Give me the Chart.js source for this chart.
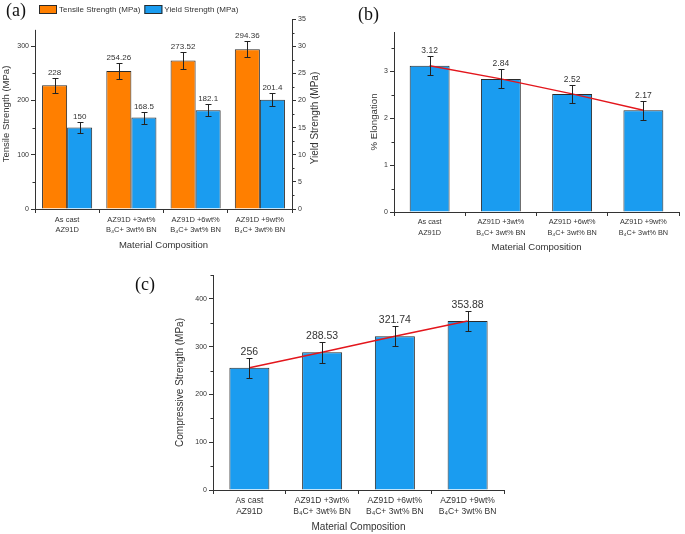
<!DOCTYPE html>
<html>
<head>
<meta charset="utf-8">
<script src="https://cdn.jsdelivr.net/npm/chart.js@4/dist/chart.umd.min.js"></script>
<style>
  body { margin: 0; background: #fff; width: 685px; height: 534px; position: relative; overflow: hidden; }
  canvas { position: absolute; }
  .tag { position: absolute; font: 18px "Liberation Serif", "Times New Roman", serif; line-height: 1; color: #111; }
</style>
</head>
<body>
<canvas id="chartA" width="335" height="255" style="left:0;top:0"></canvas>
<canvas id="chartB" width="345" height="258" style="left:340px;top:0"></canvas>
<canvas id="chartC" width="390" height="272" style="left:130px;top:262px"></canvas>
<div class="tag" style="left:6px;top:1px">(a)</div>
<div class="tag" style="left:358px;top:5px">(b)</div>
<div class="tag" style="left:135px;top:275px">(c)</div>
<script>
// data
const categories = [
  ['As cast', 'AZ91D'],
  ['AZ91D +3wt%', 'B\u2084C+ 3wt% BN'],
  ['AZ91D +6wt%', 'B\u2084C+ 3wt% BN'],
  ['AZ91D +9wt%', 'B\u2084C+ 3wt% BN']
];
const tensile = [228, 254.26, 273.52, 294.36];
const tensileErr = [14, 14, 15, 15];
const yieldStrength = [150, 168.5, 182.1, 201.4];
const yieldErr = [10, 11, 11, 12];
const elongation = [3.12, 2.84, 2.52, 2.17];
const elongationErr = [0.2, 0.2, 0.2, 0.2];
const compressive = [256, 288.53, 321.74, 353.88];
const compressiveErr = [21, 22, 21, 21];

const tensileTicks = [0, 100, 200, 300];
const yieldTicks = [0, 5, 10, 15, 20, 25, 30, 35];
const elongationTicks = [0, 1, 2, 3];
const compressiveTicks = [0, 100, 200, 300, 400];

const FONT = '"Liberation Sans", Arial, sans-serif';
const ORANGE = '#ff7f00';
const BLUE = '#1a9cf0';
const EDGE = '#2b2b2b';
const INK = '#333';
const TREND = '#e3161c';

// error bars + value labels above them
const errorBars = {
  id: 'errorBars',
  afterDatasetsDraw(chart, args, opts) {
    const ctx = chart.ctx;
    chart.data.datasets.forEach((ds, i) => {
      if (!ds.errors) return;
      const meta = chart.getDatasetMeta(i);
      const ys = chart.scales[meta.yAxisID];
      meta.data.forEach((bar, j) => {
        const v = ds.data[j], e = ds.errors[j];
        const x = Math.round(bar.x) + 0.5;
        const top = Math.round(ys.getPixelForValue(v + e)) + 0.5;
        const bot = Math.round(ys.getPixelForValue(v - e)) + 0.5;
        ctx.save();
        ctx.strokeStyle = '#222';
        ctx.lineWidth = 1;
        ctx.beginPath();
        ctx.moveTo(x, top); ctx.lineTo(x, bot);
        ctx.moveTo(x - 3, top); ctx.lineTo(x + 3, top);
        ctx.moveTo(x - 3, bot); ctx.lineTo(x + 3, bot);
        ctx.stroke();
        ctx.fillStyle = INK;
        ctx.font = opts.size + 'px ' + FONT;
        ctx.textAlign = 'center';
        ctx.textBaseline = 'middle';
        ctx.fillText(String(v), bar.x, top - opts.gap);
        ctx.restore();
      });
    });
  }
};

// short unlabelled ticks between the labelled ones
const minorTicks = {
  id: 'minorTicks',
  afterDraw(chart, args, opts) {
    const ctx = chart.ctx;
    ctx.save();
    ctx.strokeStyle = INK;
    ctx.lineWidth = 1;
    ctx.beginPath();
    Object.values(chart.scales).forEach(s => {
      if (s.axis !== 'y') return;
      const lim = (opts.limits && opts.limits[s.id] !== undefined) ? opts.limits[s.id] : s.max;
      const left = s.position === 'left';
      const x = left ? s.right : s.left;
      s.ticks.forEach((t, k) => {
        if (s._labelItems && s.getLabelForValue && false) return;
        const lbl = s.options.ticks.callback.call(s, t.value, k, s.ticks);
        if (lbl !== '' || t.value > lim) return;
        const y = Math.round(s.getPixelForValue(t.value)) + 0.5;
        ctx.moveTo(x, y);
        ctx.lineTo(left ? x - 2.5 : x + 2.5, y);
      });
    });
    ctx.stroke();
    ctx.restore();
  }
};

// extras for chart (a): short left axis line, legend, right-hand title
const panelA = {
  id: 'panelA',
  afterDraw(chart) {
    const ctx = chart.ctx;
    const y = chart.scales.y;
    const x = Math.round(chart.chartArea.left - 0.5) + 0.5;
    ctx.save();
    ctx.strokeStyle = INK;
    ctx.lineWidth = 1;
    ctx.beginPath();
    ctx.moveTo(x, y.getPixelForValue(0));
    ctx.lineTo(x, y.getPixelForValue(330));
    ctx.stroke();

    ctx.font = '8px ' + FONT;
    ctx.textBaseline = 'middle';
    let lx = 39;
    chart.data.datasets.forEach(ds => {
      ctx.fillStyle = ds.backgroundColor;
      ctx.fillRect(lx, 5, 18, 9);
      ctx.strokeStyle = EDGE;
      ctx.strokeRect(lx + 0.5, 5.5, 17, 8);
      ctx.fillStyle = INK;
      ctx.fillText(ds.label, lx + 20, 10);
      lx += 20 + ctx.measureText(ds.label).width + 4;
    });

    ctx.translate(315, 118);
    ctx.rotate(-Math.PI / 2);
    ctx.textAlign = 'center';
    ctx.font = '10px ' + FONT;
    ctx.fillText('Yield Strength (MPa)', 0, 0);
    ctx.restore();
  }
};

function xAxis(tickSize, lineH, titleSize, titlePad, height) {
  return {
    grid: { drawOnChartArea: false, offset: true, tickLength: 4, color: INK },
    border: { color: INK, width: 1 },
    ticks: { color: INK, font: { family: FONT, size: tickSize, lineHeight: lineH }, padding: 1, maxRotation: 0, autoSkip: false },
    title: { display: true, text: 'Material Composition', color: INK, font: { family: FONT, size: titleSize }, padding: { top: 0, bottom: titlePad } },
    afterFit: s => { s.height = height; }
  };
}

function yAxis(opt) {
  const isMajor = v => opt.labels.includes(Math.round(v * 1000) / 1000);
  return {
    position: opt.position || 'left',
    min: 0, max: opt.max,
    border: { display: opt.border !== false, color: INK, width: 1 },
    grid: {
      drawOnChartArea: false, tickLength: 4,
      tickColor: c => (c.tick && isMajor(c.tick.value)) ? INK : 'rgba(0,0,0,0)'
    },
    ticks: {
      stepSize: opt.step, includeBounds: false, color: INK, padding: 2,
      font: { family: FONT, size: 7 },
      callback: v => isMajor(v) ? String(v) : ''
    },
    title: opt.title ? { display: true, text: opt.title, color: INK, font: { family: FONT, size: opt.titleSize }, padding: { top: opt.titlePad, bottom: 0 } } : { display: false },
    afterFit: s => { s.width = opt.width; }
  };
}

const common = {
  responsive: false,
  animation: false,
  devicePixelRatio: 1,
  events: []
};

new Chart(document.getElementById('chartA'), {
  type: 'bar',
  data: {
    labels: categories,
    datasets: [
      { label: 'Tensile Strength (MPa)', data: tensile, errors: tensileErr, backgroundColor: ORANGE, borderColor: EDGE, borderWidth: 1, categoryPercentage: 0.78, barPercentage: 1 },
      { label: 'Yield Strength (MPa)', data: yieldStrength, errors: yieldErr, backgroundColor: BLUE, borderColor: EDGE, borderWidth: 1, categoryPercentage: 0.78, barPercentage: 1 }
    ]
  },
  options: {
    ...common,
    layout: { padding: { top: 19, left: 0, right: 0, bottom: 0 } },
    plugins: { legend: { display: false }, tooltip: { enabled: false }, errorBars: { size: 8, gap: 6 }, minorTicks: { limits: { y: 330 } } },
    scales: {
      x: xAxis(7.5, 1.45, 9.5, 4, 46),
      y: yAxis({ max: 350, step: 50, labels: tensileTicks, border: false, title: 'Tensile Strength (MPa)', titleSize: 9.5, titlePad: 1, width: 35 }),
      y1: yAxis({ position: 'right', max: 35, step: 2.5, labels: yieldTicks, width: 43 })
    }
  },
  plugins: [errorBars, minorTicks, panelA]
});

new Chart(document.getElementById('chartB'), {
  type: 'bar',
  data: {
    labels: categories,
    datasets: [
      { type: 'line', data: elongation, borderColor: TREND, borderWidth: 1.5, pointRadius: 0, order: 0 },
      { data: elongation, errors: elongationErr, backgroundColor: BLUE, borderColor: EDGE, borderWidth: 1, categoryPercentage: 0.56, barPercentage: 1, order: 1 }
    ]
  },
  options: {
    ...common,
    layout: { padding: { top: 32, left: 0, right: 6, bottom: 0 } },
    plugins: { legend: { display: false }, tooltip: { enabled: false }, errorBars: { size: 8.5, gap: 6 }, minorTicks: {} },
    scales: {
      x: xAxis(7.3, 1.45, 9.6, 5, 46),
      y: yAxis({ max: 3.84, step: 0.5, labels: elongationTicks, title: '% Elongation', titleSize: 9.7, titlePad: 29, width: 54 })
    }
  },
  plugins: [errorBars, minorTicks]
});

new Chart(document.getElementById('chartC'), {
  type: 'bar',
  data: {
    labels: categories,
    datasets: [
      { type: 'line', data: compressive, borderColor: TREND, borderWidth: 1.5, pointRadius: 0, order: 0 },
      { data: compressive, errors: compressiveErr, backgroundColor: BLUE, borderColor: EDGE, borderWidth: 1, categoryPercentage: 0.55, barPercentage: 1, order: 1 }
    ]
  },
  options: {
    ...common,
    layout: { padding: { top: 13, left: 0, right: 16, bottom: 0 } },
    plugins: { legend: { display: false }, tooltip: { enabled: false }, errorBars: { size: 10.5, gap: 6 }, minorTicks: {} },
    scales: {
      x: xAxis(8.5, 1.3, 10, 1, 44),
      y: yAxis({ max: 450, step: 50, labels: compressiveTicks, title: 'Compressive Strength (MPa)', titleSize: 10, titlePad: 44, width: 83 })
    }
  },
  plugins: [errorBars, minorTicks]
});
</script>
</body>
</html>
